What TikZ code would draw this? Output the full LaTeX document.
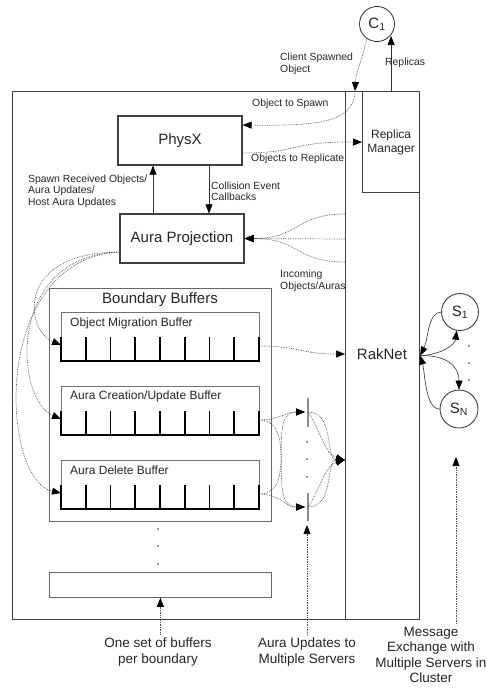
\documentclass[tikz,border=0pt]{standalone}
\usepackage{fontspec}
\setmainfont{Liberation Sans}
\usetikzlibrary{arrows.meta}
\begin{document}
\begin{tikzpicture}[x=1pt,y=-1pt,
  box/.style={draw=black!75, line width=1.2pt, inner sep=0pt, text=black!85},
  bigtxt/.style={font=\fontsize{15}{17}\selectfont, text=black!85},
  midtxt/.style={font=\fontsize{12}{14}\selectfont, text=black!85},
  lbl/.style={font=\fontsize{10.4}{11.5}\selectfont, inner sep=0pt, align=left, text=black!85},
  botlbl/.style={font=\fontsize{13.5}{15.3}\selectfont, align=center, text=black!85},
  thinbox/.style={draw=black!55, line width=0.6pt, inner sep=0pt},
  grpbox/.style={draw=black!60, line width=0.8pt, inner sep=0pt},
  ladder/.style={line width=1.8pt, black},
  dotarrow/.style={densely dotted, line width=0.7pt, draw=black!70, -{Triangle[length=9pt,width=7pt,color=black]}},
  solidarrow/.style={line width=0.6pt, draw=black!80, -{Triangle[length=9pt,width=7pt,color=black]}},
  dotpt/.style={fill=black!80}
]
\useasboundingbox (0,0) rectangle (487,688);

% main frames
\node[box, minimum width=333pt, minimum height=528pt, anchor=north west] (outer) at (12,91) {};
\node[box, minimum width=74pt, minimum height=528pt, anchor=north west] (rakcol) at (345,91) {};
\node[bigtxt] (raknet) at (382,354) {RakNet};
\node[box, midtxt, align=center, minimum width=57pt, minimum height=101pt, anchor=north west] (rm) at (362,91) {Replica\\Manager};

% client
\node[box, circle, line width=0.9pt, minimum size=35pt, bigtxt] (c1) at (377,24) {C\textsubscript{1}};

% physx and aura
\node[box, bigtxt, minimum width=124pt, minimum height=49pt] (physx) at (180,140.5) {PhysX};
\node[box, bigtxt, minimum width=124pt, minimum height=49pt] (aura) at (182,238.5) {Aura Projection};

% boundary buffers
\node[grpbox, minimum width=222pt, minimum height=233pt, anchor=north west] (bb) at (49,288) {};
\node[bigtxt] (bbt) at (160,300) {Boundary Buffers};

\node[thinbox, minimum width=198pt, minimum height=49pt, anchor=north west] (mig) at (61,312) {};
\node[midtxt, anchor=west, inner sep=0pt] (migt) at (70,323) {Object Migration Buffer};
\draw[ladder] (61,337) |- (259,361) -- (259,337);
\foreach \i in {1,...,7} \draw[ladder] ({61+\i*24.75},337) -- ({61+\i*24.75},361);

\node[thinbox, minimum width=198pt, minimum height=49pt, anchor=north west] (cre) at (61,386) {};
\node[midtxt, anchor=west, inner sep=0pt] (cret) at (70,396) {Aura Creation/Update Buffer};
\draw[ladder] (61,411) |- (259,435) -- (259,411);
\foreach \i in {1,...,7} \draw[ladder] ({61+\i*24.75},411) -- ({61+\i*24.75},435);

\node[thinbox, minimum width=198pt, minimum height=49pt, anchor=north west] (del) at (61,460) {};
\node[midtxt, anchor=west, inner sep=0pt] (delt) at (70,470) {Aura Delete Buffer};
\draw[ladder] (61,485) |- (259,509) -- (259,485);
\foreach \i in {1,...,7} \draw[ladder] ({61+\i*24.75},485) -- ({61+\i*24.75},509);

\foreach \yy in {529,546,564} \fill[dotpt] (158,\yy) circle (0.9pt);
\node[grpbox, minimum width=222pt, minimum height=25pt, anchor=north west] (last) at (49,572) {};

% servers
\node[box, circle, line width=0.9pt, minimum size=37pt, bigtxt] (s1) at (460,312) {S\textsubscript{1}};
\node[box, circle, line width=0.9pt, minimum size=38pt, bigtxt] (sn) at (459,409) {S\textsubscript{N}};
\foreach \yy in {346,363,380} \fill[dotpt] (469,\yy) circle (0.8pt);

% multi-server ticks
\draw[black!45, line width=1.2pt] (308,398) -- (308,427);
\draw[black!45, line width=1.2pt] (308,493) -- (308,521);
\foreach \yy in {442,459,477} \fill[dotpt] (307,\yy) circle (0.8pt);

% coordinates
\coordinate (tt) at (305,412);
\coordinate (tb) at (305,507);
\coordinate (ttr) at (308,412);
\coordinate (tbr) at (308,507);
\coordinate (migr) at (259,346);
\coordinate (crer) at (259,420);
\coordinate (delr) at (259,494);
\coordinate (migl) at (61,345);
\coordinate (crel) at (61,419);
\coordinate (dell) at (61,493);
\coordinate (rkmig) at (345,354);
\coordinate (rkin) at (345,460);
\coordinate (in1) at (345,214);
\coordinate (in2) at (345,239);
\coordinate (in3) at (345,262);
\coordinate (al) at (120,252);
\coordinate (cs) at (355,91);
\coordinate (upx) at (153,0);
\coordinate (dnx) at (209,0);
\coordinate (aup) at (307,525);
\coordinate (msgtip) at (456,457);

% labels
\node[lbl, anchor=west] (csl) at (280,64) {Client Spawned\\Object};
\node[lbl, anchor=west] (repl) at (385,63) {Replicas};
\node[lbl, anchor=west] (ots) at (252,104) {Object to Spawn};
\node[lbl, anchor=west] (otr) at (251,159) {Objects to Replicate};
\node[lbl, anchor=west] (srl) at (28,191) {Spawn Received Objects/\\Aura Updates/\\Host Aura Updates};
\node[lbl, anchor=west] (cel) at (211,191.5) {Collision Event\\Callbacks};
\node[lbl, anchor=west] (inl) at (280,281) {Incoming\\Objects/Auras};

\node[botlbl] (onelbl) at (158,652) {One set of buffers\\per boundary};
\node[botlbl] (aulbl) at (307,652) {Aura Updates to\\Multiple Servers};
\node[botlbl] (msg) at (431,655) {Message\\Exchange with\\Multiple Servers in\\Cluster};

% connectors: top
\draw[dotarrow] (c1.235) .. controls (363,60) and (356,70) .. (cs);
\draw[dotarrow] (cs) .. controls (354,122) and (320,126) .. ([yshift=15.5pt]physx.east);
\draw[dotarrow] ([yshift=-12.5pt]physx.east) .. controls (300,153) and (290,141.5) .. (rm.west);
\draw[solidarrow] (rm.north) -- (rm.north |- c1.-42);

% physx <-> aura
\draw[solidarrow] (aura.north -| upx) -- (physx.south -| upx);
\draw[solidarrow] (physx.south -| dnx) -- (aura.north -| dnx);

% incoming
\draw[dotarrow] (in1) .. controls (295,214) and (300,238.5) .. (aura.east);
\draw[dotarrow] (in2) -- (aura.east);
\draw[dotarrow] (in3) .. controls (295,262) and (300,238.5) .. (aura.east);

% aura to buffers
\draw[dotarrow] (al) .. controls (15,252) and (25,330) .. (migl);
\draw[dotarrow] (al) .. controls (5,255) and (15,400) .. (crel);
\draw[dotarrow] (al) .. controls (-10,258) and (0,480) .. (dell);

% buffers to raknet
\draw[dotarrow] (migr) .. controls (300,346) and (300,354) .. (rkmig);
\draw[dotarrow] (crer) .. controls (280,420) and (285,412) .. (tt);
\draw[dotarrow] (crer) .. controls (300,420) and (265,507) .. (tb);
\draw[dotarrow] (delr) .. controls (300,494) and (265,412) .. (tt);
\draw[dotarrow] (delr) .. controls (280,494) and (285,507) .. (tb);
\draw[dotarrow] (ttr) .. controls (335,412) and (325,460) .. (rkin);
\draw[dotarrow] (ttr) .. controls (318,425) and (325,455) .. (rkin);
\draw[dotarrow] (tbr) .. controls (335,507) and (325,460) .. (rkin);
\draw[dotarrow] (tbr) .. controls (318,494) and (325,465) .. (rkin);

% servers
\draw[solidarrow] (s1.west) .. controls (428,312) and (428,340) .. (rakcol.east);
\draw[solidarrow] (rakcol.east) .. controls (440,355) and (455,345) .. (s1.-100);
\draw[solidarrow] (rakcol.east) .. controls (445,355) and (459,365) .. (sn.north);
\draw[solidarrow] (sn.west) .. controls (425,409) and (425,372) .. (rakcol.east);

% bottom arrows
\draw[dotarrow] (onelbl.north -| last.south) -- (last.south);
\draw[dotarrow] (aulbl.north -| aup) -- (aup);
\draw[dotarrow] (msg.north -| msgtip) -- (msgtip);
\end{tikzpicture}
\end{document}
